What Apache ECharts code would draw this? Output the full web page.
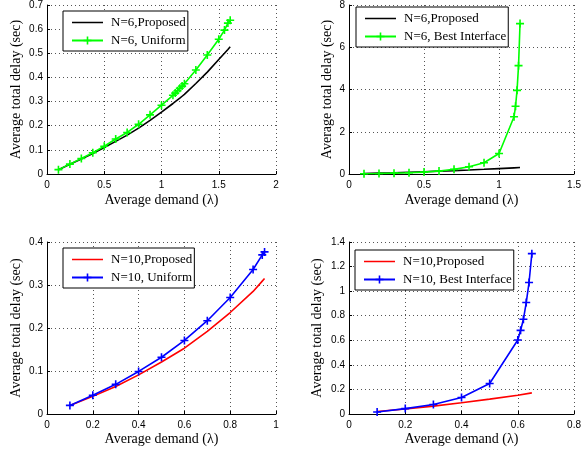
<!DOCTYPE html>
<html>
<head>
<meta charset="UTF-8">
<title>Average total delay vs average demand</title>
<style>
  html, body { margin: 0; padding: 0; background: #fff; }
  #main { width: 584px; height: 455px; }
</style>
<script src="https://cdn.jsdelivr.net/npm/echarts@6/dist/echarts.min.js"></script>
</head>
<body>
<div id="main"></div>
<script>
// N=6, proposed vs uniform (top left)
var lam6 = [0.1, 0.2, 0.3, 0.4, 0.5, 0.6, 0.7, 0.8, 0.9, 1.0, 1.1, 1.12, 1.14, 1.16, 1.18, 1.2, 1.3, 1.4, 1.5, 1.55, 1.58, 1.6];
var prop6 = [0.018, 0.04, 0.062, 0.085, 0.11, 0.135, 0.161, 0.19, 0.222, 0.256, 0.292, 0.3, 0.307, 0.314, 0.322, 0.33, 0.375, 0.422, 0.474, 0.5, 0.516, 0.527];
var unif6 = [0.018, 0.041, 0.064, 0.088, 0.115, 0.145, 0.172, 0.206, 0.245, 0.285, 0.326, 0.335, 0.345, 0.355, 0.364, 0.374, 0.431, 0.493, 0.558, 0.596, 0.625, 0.637];

// N=6, proposed vs best interface (top right)
var lamBest6 = [0.1, 0.2, 0.3, 0.4, 0.5, 0.6, 0.7, 0.8, 0.9, 1.0, 1.1, 1.11, 1.12, 1.13, 1.14];
var best6 = [0.015, 0.025, 0.04, 0.06, 0.09, 0.14, 0.22, 0.34, 0.53, 0.97, 2.71, 3.21, 3.96, 5.13, 7.12];
var lamProp6b = [0.1, 0.2, 0.3, 0.4, 0.5, 0.6, 0.7, 0.8, 0.9, 1.0, 1.1, 1.14];
var prop6b = [0.018, 0.04, 0.062, 0.085, 0.11, 0.135, 0.161, 0.19, 0.222, 0.256, 0.292, 0.307];

// N=10, proposed vs uniform (bottom left)
var lam10 = [0.1, 0.2, 0.3, 0.4, 0.5, 0.6, 0.7, 0.8, 0.9, 0.94, 0.95];
var prop10 = [0.02, 0.041, 0.064, 0.091, 0.121, 0.153, 0.192, 0.236, 0.285, 0.309, 0.315];
var unif10 = [0.02, 0.0435, 0.069, 0.099, 0.132, 0.171, 0.217, 0.271, 0.336, 0.37, 0.377];

// N=10, proposed vs best interface (bottom right)
var lamBest10 = [0.1, 0.2, 0.3, 0.4, 0.5, 0.6, 0.61, 0.62, 0.63, 0.64, 0.65];
var best10 = [0.016, 0.044, 0.077, 0.134, 0.248, 0.602, 0.681, 0.771, 0.907, 1.07, 1.305];
var lamProp10b = [0.1, 0.2, 0.3, 0.4, 0.5, 0.6, 0.65];
var prop10b = [0.02, 0.041, 0.064, 0.091, 0.121, 0.153, 0.172];

function pairs(xs, ys) {
    return xs.map(function (x, i) { return [x, ys[i]]; });
}

var serif = 'Liberation Serif';
var sans = 'Liberation Sans';
var cross = 'path://M4,0H6V4H10V6H6V10H4V6H0V4H4Z';
// plain line icon for the legend (bounding points keep it thin)
var lineIcon = 'path://M0,0L0,0ZM0,4.3H31V5.7H0ZM31,10L31,10Z';

var grids = [
    {left: 47, top: 3, width: 229, height: 171},
    {left: 349, top: 3, width: 228, height: 171},
    {left: 47, top: 242, width: 229, height: 172},
    {left: 349, top: 242, width: 229, height: 172}
];

function xAx(idx, max, interval, gap) {
    return {
        type: 'value', gridIndex: idx, min: 0, max: max, interval: interval,
        name: 'Average demand (λ)', nameLocation: 'middle', nameGap: gap,
        nameTextStyle: {fontFamily: serif, fontSize: 14, color: '#000'},
        axisLine: {show: true, onZero: false, lineStyle: {color: '#000', width: 1}},
        axisTick: {show: true, inside: true, length: 3, lineStyle: {color: '#000'}},
        axisLabel: {fontFamily: sans, fontSize: 10, color: '#000', margin: 6, showMaxLabel: true},
        splitLine: {show: true, lineStyle: {color: '#555', width: 1, type: [1, 3]}}
    };
}

function yAx(idx, max, interval, gap) {
    return {
        type: 'value', gridIndex: idx, min: 0, max: max, interval: interval,
        name: 'Average total delay (sec)', nameLocation: 'middle', nameGap: gap, nameRotate: 90,
        nameTextStyle: {fontFamily: serif, fontSize: 14, color: '#000'},
        axisLine: {show: true, onZero: false, lineStyle: {color: '#000', width: 1}},
        axisTick: {show: true, inside: true, length: 3, lineStyle: {color: '#000'}},
        axisLabel: {fontFamily: sans, fontSize: 10, color: '#000', margin: 4, showMaxLabel: true},
        splitLine: {show: true, lineStyle: {color: '#555', width: 1, type: [1, 3]}}
    };
}

function plainLine(name, idx, color, data) {
    return {
        name: name, type: 'line', xAxisIndex: idx, yAxisIndex: idx,
        data: data, symbol: 'none', smooth: false,
        lineStyle: {color: color, width: 1.6}, itemStyle: {color: color}
    };
}

function crossLine(name, idx, color, data) {
    return {
        name: name, type: 'line', xAxisIndex: idx, yAxisIndex: idx,
        data: data, symbol: cross, symbolSize: 8, showSymbol: true,
        lineStyle: {color: color, width: 1.6}, itemStyle: {color: color, borderWidth: 0}
    };
}

function legendBox(left, top, names) {
    return {
        orient: 'vertical', left: left, top: top,
        data: [{name: names[0], icon: lineIcon}, {name: names[1]}],
        itemWidth: 31, itemHeight: 10, itemGap: 5,
        padding: [5, 2, 4, 8],
        backgroundColor: '#fff', borderColor: '#000', borderWidth: 1, borderRadius: 0,
        selectedMode: false,
        textStyle: {fontFamily: serif, fontSize: 13, color: '#000', padding: [0, 0, 0, 3]}
    };
}

var chart = echarts.init(document.getElementById('main'), null, {renderer: 'canvas'});
chart.setOption({
    animation: false,
    backgroundColor: '#fff',
    grid: grids,
    xAxis: [xAx(0, 2, 0.5, 19), xAx(1, 1.5, 0.5, 19), xAx(2, 1, 0.2, 18), xAx(3, 0.8, 0.2, 18)],
    yAxis: [yAx(0, 0.7, 0.1, 24), yAx(1, 8, 2, 15), yAx(2, 0.4, 0.1, 24), yAx(3, 1.4, 0.2, 25)],
    legend: [
        legendBox(63, 11, ['N=6,Proposed', 'N=6, Uniform']),
        legendBox(356, 7, ['N=6,Proposed ', 'N=6, Best Interface']),
        legendBox(63, 248, ['N=10,Proposed', 'N=10, Uniform']),
        legendBox(355, 250, ['N=10,Proposed ', 'N=10, Best Interface'])
    ],
    series: [
        plainLine('N=6,Proposed', 0, '#000000', pairs(lam6, prop6)),
        crossLine('N=6, Uniform', 0, '#00ff00', pairs(lam6, unif6)),
        plainLine('N=6,Proposed ', 1, '#000000', pairs(lamProp6b, prop6b)),
        crossLine('N=6, Best Interface', 1, '#00ff00', pairs(lamBest6, best6)),
        plainLine('N=10,Proposed', 2, '#ff0000', pairs(lam10, prop10)),
        crossLine('N=10, Uniform', 2, '#0000ff', pairs(lam10, unif10)),
        plainLine('N=10,Proposed ', 3, '#ff0000', pairs(lamProp10b, prop10b)),
        crossLine('N=10, Best Interface', 3, '#0000ff', pairs(lamBest10, best10))
    ]
});
</script>
</body>
</html>
